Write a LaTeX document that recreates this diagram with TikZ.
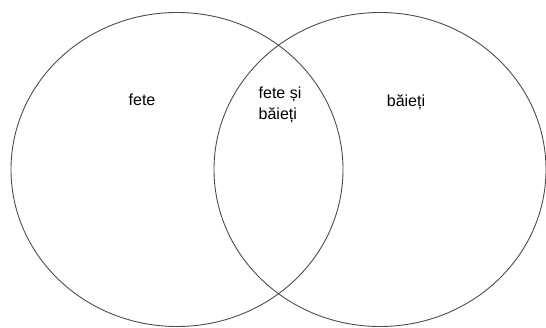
\documentclass[tikz,border=0pt]{standalone}
\usepackage{fontspec}
\setmainfont{Liberation Sans}
\usetikzlibrary{shapes, positioning}
\tikzstyle{set}=[draw=black!70,ellipse,line width=.9pt,inner sep=0pt,
  minimum width=332pt,minimum height=314pt]
\tikzstyle{every node}=[font=\fontsize{16}{21}\selectfont]

\begin{document}
\begin{tikzpicture}[x=1pt,y=-1pt]
  \useasboundingbox (0,0) rectangle (546,328);
  \node[set] (fete) at (177,169.5) {};
  \node[set] (baieti) at (380,169.5) {};
  \node (lfete) at (142,100) {fete};
  \node[align=left] (lambele) at (280,105) {fete și\\băieți};
  \node (lbaieti) at (406,102) {băieți};
\end{tikzpicture}
\end{document}
